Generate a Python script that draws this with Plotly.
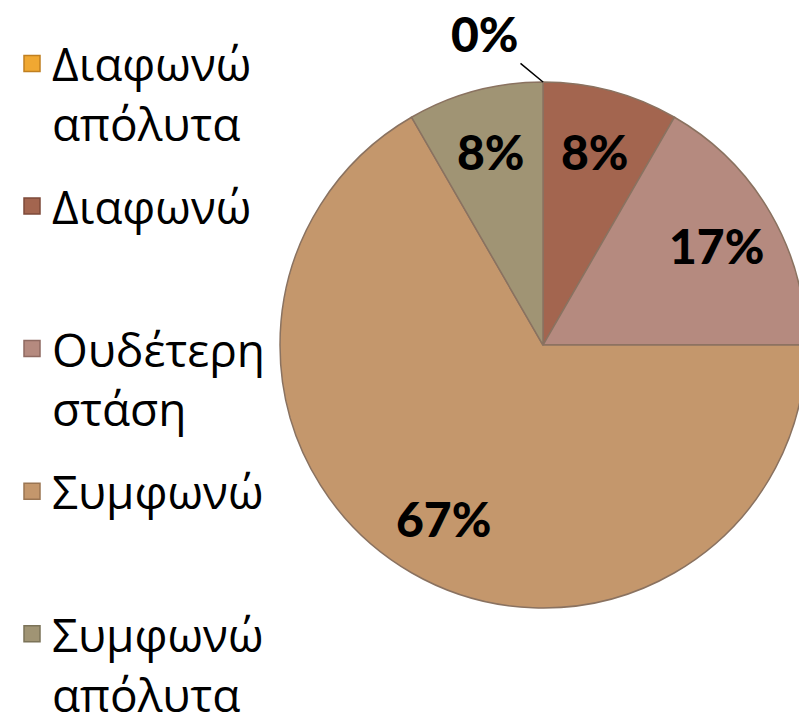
import math
import plotly.graph_objects as go

labels = ["Διαφωνώ απόλυτα", "Διαφωνώ", "Ουδέτερη στάση", "Συμφωνώ", "Συμφωνώ απόλυτα"]
legend_text = ["Διαφωνώ<br>απόλυτα", "Διαφωνώ<br> ", "Ουδέτερη<br>στάση", "Συμφωνώ<br> ", "Συμφωνώ<br>απόλυτα"]
values = [0, 1, 2, 8, 1]
colors = ["#F0A832", "#A3654F", "#B58A7F", "#C4976C", "#A09474"]
edge_colors = ["#C07F20", "#7E4A3A", "#8F6A61", "#9A7552", "#7B7358"]

# the chart runs slightly past the right/bottom edge of the 799x714 view, as in the reference
W, H = 806, 740
dom_x = [280 / W, 1.0]
dom_y = [1 - 608 / H, 1 - 82 / H]

fig = go.Figure()
fig.add_trace(go.Pie(
    labels=labels,
    values=values,
    sort=False,
    direction="clockwise",
    rotation=0,
    marker=dict(colors=colors, line=dict(color="#8A7260", width=1.5)),
    textinfo="none",
    domain=dict(x=dom_x, y=dom_y),
    showlegend=False,
    hoverinfo="label+percent",
))

# legend entries (one per category, same colours as the slices)
for lab, txt, c, ec in zip(labels, legend_text, colors, edge_colors):
    fig.add_trace(go.Scatter(
        x=[None], y=[None], mode="markers", name=txt, legendgroup=lab,
        marker=dict(symbol="square", size=16, color=c, line=dict(color=ec, width=1.5)),
        hoverinfo="skip",
    ))

# percentage labels placed at each slice's mid-angle (computed from the values)
total = sum(values)
R = min((dom_x[1] - dom_x[0]) * W, (dom_y[1] - dom_y[0]) * H) / 2
cx = (dom_x[0] + dom_x[1]) / 2
cy = (dom_y[0] + dom_y[1]) / 2
label_font = dict(family="Lato", size=48, color="black", weight=900)
cum = 0
for lab, v in zip(labels, values):
    pct = f"{round(100 * v / total)}%"
    if v > 0:
        ang = 2 * math.pi * (cum + v / 2) / total
        r = 0.76 * R
        fig.add_annotation(x=cx + r * math.sin(ang) / W, y=cy + r * math.cos(ang) / H,
                           xref="paper", yref="paper", text=pct, showarrow=False,
                           font=label_font, xanchor="center", yanchor="middle")
    else:
        ang = 2 * math.pi * cum / total
        fig.add_annotation(x=cx + R * math.sin(ang) / W, y=cy + R * math.cos(ang) / H,
                           xref="paper", yref="paper", text=pct, showarrow=True,
                           arrowhead=0, arrowwidth=1.5, arrowcolor="black",
                           ax=-58, ay=-48, font=label_font)
    cum += v

fig.update_layout(
    width=W, height=H,
    margin=dict(l=0, r=0, t=0, b=0),
    paper_bgcolor="white",
    plot_bgcolor="white",
    xaxis=dict(visible=False),
    yaxis=dict(visible=False),
    showlegend=True,
    legend=dict(x=12 / W, y=1 - 27 / H, xanchor="left", yanchor="top",
                font=dict(family="Open Sans", size=46, color="black"),
                valign="top", traceorder="grouped", tracegroupgap=20),
)

fig.write_html("out.html", config={"displayModeBar": False},
               post_script="document.body.style.margin='0';document.body.style.overflow='hidden';")
